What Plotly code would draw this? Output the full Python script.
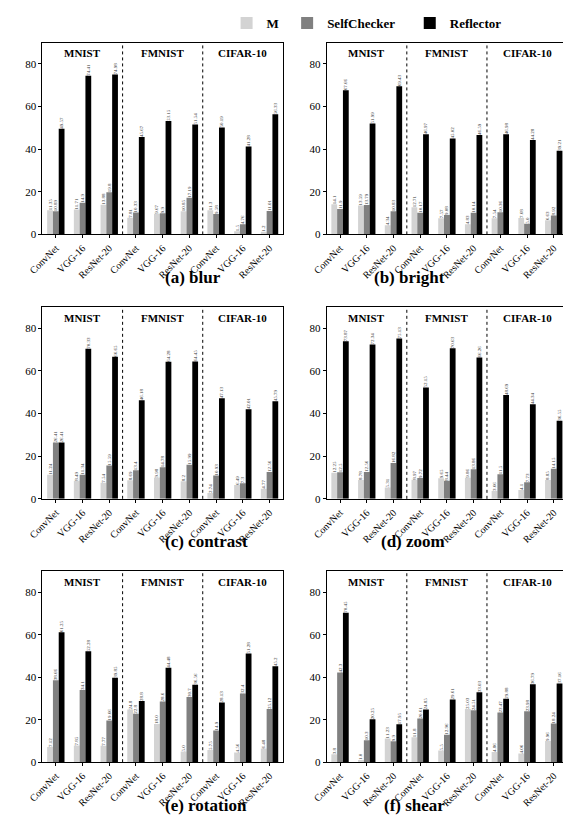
import plotly.graph_objects as go
from plotly.subplots import make_subplots

models = ["ConvNet", "VGG-16", "ResNet-20"]
datasets = ["MNIST", "FMNIST", "CIFAR-10"]
series_names = ["M", "SelfChecker", "Reflector"]
series_colors = ["#d3d3d3", "#808080", "#000000"]
panel_titles = ["(a) blur", "(b) bright", "(c) contrast", "(d) zoom", "(e) rotation", "(f) shear"]
y_ticks = [0, 20, 40, 60, 80]

# values: 9 per series, order = MNIST(ConvNet, VGG-16, ResNet-20), FMNIST(...), CIFAR-10(...)
blur_m = [11.35, 11.71, 13.88, 7.81, 9.67, 10.85, 11.3, 1.5, 1.2]
blur_sc = [10.89, 14.9, 19.8, 10.33, 9.9, 17.19, 9.58, 4.76, 11.01]
blur_r = [49.57, 74.41, 74.98, 45.67, 53.15, 51.54, 50.19, 41.28, 56.33]

bright_m = [14.1, 13.59, 4.34, 12.71, 7.57, 4.83, 7.54, 7.68, 6.63]
bright_sc = [11.9, 13.79, 10.83, 10.17, 9.08, 10.14, 10.36, 5.0, 8.92]
bright_r = [67.66, 51.99, 69.43, 46.97, 45.02, 46.59, 46.98, 44.28, 39.21]

contrast_m = [11.24, 8.49, 7.54, 8.69, 9.98, 8.2, 2.74, 6.49, 4.77]
contrast_sc = [26.41, 11.34, 15.59, 13.4, 14.78, 15.99, 10.93, 7.3, 12.56]
contrast_r = [26.41, 70.33, 66.65, 46.18, 64.28, 64.45, 47.13, 42.01, 45.79]

zoom_m = [12.25, 8.78, 5.31, 8.97, 9.65, 9.86, 3.66, 4.1, 8.85]
zoom_sc = [12.5, 12.56, 16.82, 9.72, 8.44, 13.86, 11.5, 7.73, 14.15]
zoom_r = [73.87, 72.34, 75.13, 52.15, 70.63, 66.26, 48.69, 44.34, 36.55]

rotation_m = [7.12, 7.85, 7.77, 24.8, 18.0, 5.0, 5.75, 4.56, 6.48]
rotation_sc = [38.66, 34.1, 19.66, 22.8, 28.6, 30.7, 14.9, 32.4, 25.12]
rotation_r = [61.25, 52.28, 39.85, 28.8, 44.48, 36.56, 28.13, 51.28, 45.2]

shear_m = [3.8, 1.0, 11.23, 11.8, 5.5, 25.03, 4.86, 4.06, 9.96]
shear_sc = [42.3, 10.3, 9.9, 20.61, 12.96, 24.51, 23.47, 23.98, 18.24]
shear_r = [70.45, 20.25, 17.95, 24.85, 29.61, 33.03, 29.88, 36.79, 37.16]

panels = [
    (blur_m, blur_sc, blur_r),
    (bright_m, bright_sc, bright_r),
    (contrast_m, contrast_sc, contrast_r),
    (zoom_m, zoom_sc, zoom_r),
    (rotation_m, rotation_sc, rotation_r),
    (shear_m, shear_sc, shear_r),
]

# the page body has an 8px margin, so the figure is drawn 8px smaller and offset
W, H = 563, 818
x_domains = [(20, 267), (312, 559)]
y_domains = [(24, 220), (294, 490), (564, 759)]
SERIF = "Liberation Serif, Times New Roman, serif"
NB = "\u00a0"

fig = make_subplots(rows=3, cols=2)
tick_labels = [m for _ in datasets for m in models]
positions = list(range(len(tick_labels)))
legend_names = ["M" + NB, "SelfChecker" + NB * 3, "Reflector"]

for i, vals in enumerate(panels):
    row, col = i // 2 + 1, i % 2 + 1
    for s, (name, color) in enumerate(zip(series_names, series_colors)):
        fig.add_trace(go.Bar(
            x=positions, y=vals[s], name=legend_names[s], marker_color=color,
            marker_line_width=0,
            text=[str(v) for v in vals[s]], textposition="outside",
            textangle=-90, textfont=dict(size=5, family=SERIF, color="#333333"),
            constraintext="none", cliponaxis=False,
            showlegend=(i == 0), legendgroup=name,
        ), row=row, col=col)

layout_updates = {}
annotations = []
shapes = []
for i in range(6):
    r, c = i // 2, i % 2
    ax = "" if i == 0 else str(i + 1)
    x0, x1 = x_domains[c]
    yt, yb = y_domains[r]
    layout_updates["xaxis" + ax] = dict(
        domain=[x0 / W, x1 / W], range=[-0.5, 8.5],
        tickvals=positions, ticktext=tick_labels, tickangle=-45,
        tickfont=dict(size=10, family=SERIF, color="black"),
        showline=True, mirror=True, linecolor="black", linewidth=1,
        ticks="outside", ticklen=3, tickcolor="black", showgrid=False, zeroline=False,
    )
    layout_updates["yaxis" + ax] = dict(
        domain=[1 - yb / H, 1 - yt / H], range=[0, 90],
        tickvals=y_ticks, tickfont=dict(size=11, family=SERIF, color="black"),
        showline=True, mirror=True, linecolor="black", linewidth=1,
        ticks="outside", ticklen=3, tickcolor="black", showgrid=False, zeroline=False,
    )
    xr = "x" + ax
    yr = "y" + ax
    for k, ds in enumerate(datasets):
        annotations.append(dict(
            x=3 * k + 1, y=0.985, xref=xr, yref=yr + " domain", text="<b>" + ds + "</b>",
            showarrow=False, yanchor="top", font=dict(size=11, family=SERIF, color="black"),
        ))
        if k > 0:
            shapes.append(dict(
                type="line", xref=xr, yref=yr + " domain", x0=3 * k - 0.5, x1=3 * k - 0.5,
                y0=0, y1=1, line=dict(color="black", width=1, dash="dot"),
            ))
    annotations.append(dict(
        x=(x0 + x1) / 2 / W, y=1 - (yb + 44) / H, xref="paper", yref="paper",
        text="<b>" + panel_titles[i] + "</b>", showarrow=False, yanchor="middle",
        font=dict(size=17, family=SERIF, color="black"),
    ))

fig.update_layout(**layout_updates)
fig.update_layout(
    width=W, height=H, margin=dict(l=0, r=0, t=0, b=0),
    paper_bgcolor="white", plot_bgcolor="white",
    barmode="group", bargap=0.35, bargroupgap=0,
    annotations=annotations, shapes=shapes,
    legend=dict(orientation="h", x=353 / W, xanchor="center", y=1 - 4 / H, yanchor="middle",
                font=dict(size=13, family=SERIF, color="black", weight="bold"),
                itemwidth=30, bgcolor="rgba(0,0,0,0)"),
)

fig.write_html("out.html")
